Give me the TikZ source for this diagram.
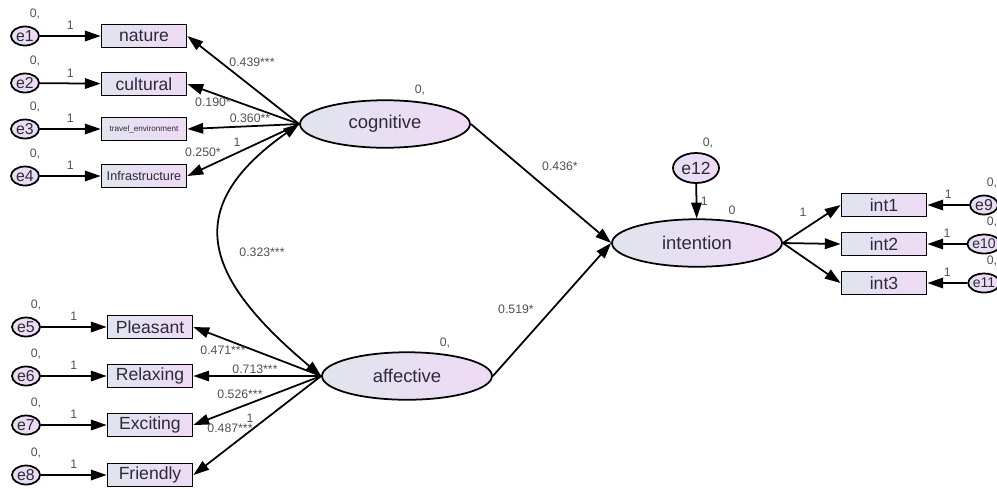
\documentclass[tikz,border=0pt]{standalone}
\usepackage{fontspec}
\setmainfont{Liberation Sans}
\usetikzlibrary{arrows.meta}
\usetikzlibrary{shapes.geometric}

\definecolor{shl}{RGB}{224,228,238}
\definecolor{shr}{RGB}{239,218,245}
\definecolor{txt}{RGB}{45,42,58}
\definecolor{numc}{RGB}{80,80,86}

\begin{document}
\begin{tikzpicture}[x=0.02cm,y=-0.02cm]
  \tikzset{latent/.style = {shape=ellipse,draw,line width=1pt,minimum width=3.4cm,minimum height=0.95cm,inner sep=0pt,left color=shl,right color=shr,text=txt,font=\fontsize{10.5}{12}\selectfont}}
  \tikzset{obs/.style = {shape=rectangle,draw,line width=1pt,minimum width=1.7cm,minimum height=0.46cm,inner sep=0pt,left color=shl,right color=shr,text=txt,font=\fontsize{10}{11}\selectfont}}
  \tikzset{err/.style = {shape=ellipse,draw,line width=1pt,minimum width=0.56cm,minimum height=0.38cm,inner sep=0pt,left color=shl!60!shr,right color=shr,text=txt,font=\fontsize{9}{10}\selectfont}}
  \tikzset{num/.style = {inner sep=0pt,text=numc,font=\fontsize{7}{8}\selectfont}}
  \tikzset{path/.style = {line width=1pt,-{Triangle[length=9pt,width=6pt]}}}
  \tikzset{cov/.style = {line width=1pt,{Triangle[length=9pt,width=6pt]}-{Triangle[length=9pt,width=6pt]}}}

  \useasboundingbox (0,0) rectangle (997,488);
  \clip (0,0) rectangle (997,488);

  % latent variables
  \node[latent] (cog) at (385,124) {cognitive};
  \node[latent] (aff) at (407,376) {affective};
  \node[latent] (int) at (697,243) {intention};
  \node[err, minimum width=0.92cm, minimum height=0.6cm, font=\fontsize{10}{11}\selectfont] (e12) at (696,168) {e12};

  % cognitive items
  \node[obs] (nat) at (144,36) {nature};
  \node[obs] (cul) at (144,84) {cultural};
  \node[obs, font=\fontsize{4.6}{5}\selectfont] (tra) at (144,129) {travel\_environment};
  \node[obs, font=\fontsize{7.2}{8}\selectfont] (inf) at (144,176) {Infrastructure};
  \node[err] (e1) at (25,36) {e1};
  \node[err] (e2) at (25,83) {e2};
  \node[err] (e3) at (25,129) {e3};
  \node[err] (e4) at (25,176) {e4};

  % affective items
  \node[obs] (ple) at (150,327) {Pleasant};
  \node[obs] (rel) at (150,376) {Relaxing};
  \node[obs] (exc) at (150,425) {Exciting};
  \node[obs] (fri) at (150,475) {Friendly};
  \node[err] (e5) at (26,327) {e5};
  \node[err] (e6) at (26,376) {e6};
  \node[err] (e7) at (26,425) {e7};
  \node[err] (e8) at (26,475) {e8};

  % intention items
  \node[obs] (in1) at (884,205) {int1};
  \node[obs] (in2) at (884,244) {int2};
  \node[obs] (in3) at (884,283) {int3};
  \node[err] (e9) at (984,205) {e9};
  \node[err, font=\fontsize{8}{9}\selectfont] (e10) at (984,244) {e10};
  \node[err, font=\fontsize{8}{9}\selectfont] (e11) at (984,283) {e11};

  \foreach \e/\b in {e1/nat, e2/cul, e3/tra, e4/inf, e5/ple, e6/rel, e7/exc, e8/fri}
    \draw[path] (\e) -- node[num, above=3pt] (w\e) {1} (\b);
  \foreach \e/\b in {e9/in1, e10/in2, e11/in3}
    \draw[path] (\e) -- node[num, above=3pt] (w\e) {1} (\b);
  \foreach \e in {e1,e2,e3,e4,e5,e6,e7,e8}
    \node[num] (z\e) at ([shift={(10,-22)}]\e) {0,};
  \foreach \e in {e9,e10,e11}
    \node[num] (z\e) at ([shift={(8,-22)}]\e) {0,};

  \foreach \b in {nat, cul, tra, inf}
    \draw[path] (cog.west) -- (\b.east);
  \foreach \b in {ple, rel, exc, fri}
    \draw[path] (aff.west) -- (\b.east);
  \foreach \b in {in1, in2, in3}
    \draw[path] (int.east) -- (\b.west);

  \draw[path] (cog.east) -- (int.west);
  \draw[path] (aff.east) -- (int.west);
  \draw[path] (e12) -- node[num, right=2pt] (we12) {1} (int);
  \draw[cov] (cog.west) .. controls (177,210) and (207,280) .. (aff.west);

  % estimates
  \node[num] (l1) at (252,62) {0.439***};
  \node[num] (l2) at (213,102) {0.190*};
  \node[num] (l3) at (250,118) {0.360**};
  \node[num] (l4) at (237,142) {1};
  \node[num] (l5) at (203,152) {0.250*};
  \node[num] (l6) at (262,252) {0.323***};
  \node[num] (l7) at (223,350) {0.471***};
  \node[num] (l8) at (255,369) {0.713***};
  \node[num] (l9) at (240,394) {0.526***};
  \node[num] (l10) at (250,418) {1};
  \node[num] (l11) at (230,428) {0.487***};
  \node[num] (l12) at (560,166) {0.436*};
  \node[num] (l13) at (516,309) {0.519*};
  \node[num] (l14) at (803,212) {1};
  \node[num] (zcog) at (420,90) {0,};
  \node[num] (zaff) at (445,343) {0,};
  \node[num] (ze12) at (708,143) {0,};
  \node[num] (zint) at (732,210) {0};
\end{tikzpicture}
\end{document}
